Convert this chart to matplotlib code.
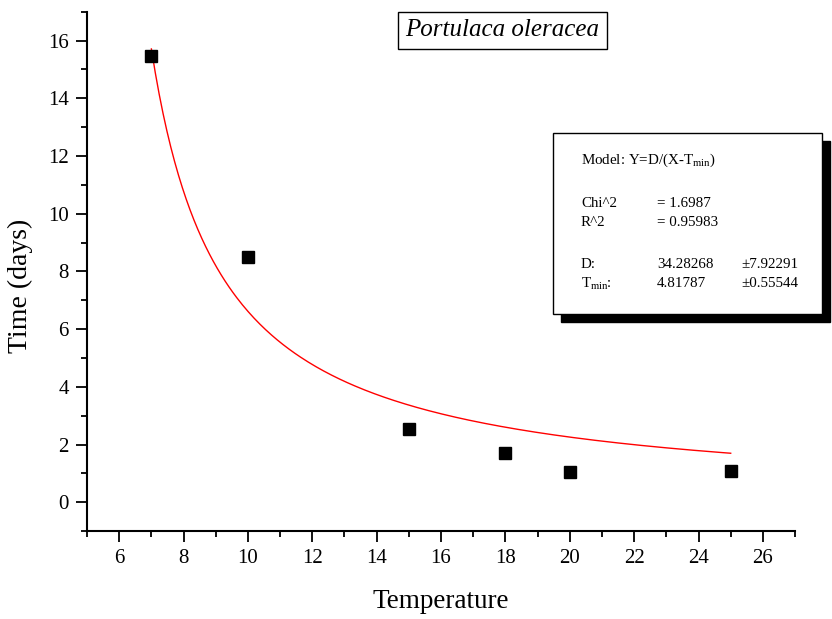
import matplotlib
matplotlib.use("Agg")
import matplotlib.pyplot as plt
import numpy as np
from matplotlib.patches import Rectangle
from matplotlib.ticker import MultipleLocator

plt.rcParams['font.family'] = ['Liberation Serif', 'DejaVu Serif']
plt.rcParams['mathtext.fontset'] = 'custom'
plt.rcParams['mathtext.rm'] = 'Liberation Serif'
plt.rcParams['mathtext.it'] = 'Liberation Serif:italic'

# measured points
temperature = [7, 10, 15, 18, 20, 25]
time_days = [15.47, 8.5, 2.55, 1.72, 1.05, 1.1]

# fit parameters from the stats box
D = 34.28268
T_min = 4.81787

fig = plt.figure(figsize=(8.32, 6.19), dpi=100)
ax = fig.add_axes([0.1046, 0.142, 0.851, 0.839])

xf = np.linspace(min(temperature), max(temperature), 300)
ax.plot(xf, D / (xf - T_min), color='red', lw=1.0)
ax.plot(temperature, time_days, 's', color='black', ms=8, zorder=3)

ax.set_xlim(5, 27)
ax.set_ylim(-1, 17)
ax.xaxis.set_minor_locator(MultipleLocator(1))
ax.yaxis.set_minor_locator(MultipleLocator(1))
ax.set_xticks(range(6, 27, 2))
ax.set_yticks(range(0, 17, 2))

for s in ['top', 'right']:
    ax.spines[s].set_visible(False)
for s in ['left', 'bottom']:
    ax.spines[s].set_linewidth(1.5)
ax.tick_params(which='major', direction='out', length=8, width=1.3, labelsize=15, pad=5)
ax.tick_params(which='minor', direction='out', length=4.5, width=1.3)

ax.set_xlabel('Temperature', fontsize=19.5, labelpad=15)
ax.set_ylabel('Time (days)', fontsize=20)
ax.yaxis.set_label_coords(-0.076, 0.473)

# title box
fig.text(502 / 832, 0.951, 'Portulaca oleracea', style='italic', fontsize=18,
         ha='center', va='center',
         bbox=dict(boxstyle='square,pad=0.3', fc='white', ec='black', lw=1.0))

# stats box with shadow
bx0, by0 = 553 / 832, 1 - 314 / 619
bw, bh = (822 - 553) / 832, (314 - 133) / 619
fig.patches.append(Rectangle((bx0 + 8 / 832, by0 - 8 / 619), bw, bh,
                             transform=fig.transFigure, fc='black', ec='black', zorder=5))
fig.patches.append(Rectangle((bx0, by0), bw, bh, transform=fig.transFigure,
                             fc='white', ec='black', lw=1.0, zorder=6))

c1, c2, c3 = 581 / 832, 657 / 832, 741 / 832
fs = 10.8
rows = [
    (160, [(c1, r'Model: Y=D/(X-T$_{\mathrm{min}}$)')]),
    (204, [(c1, 'Chi^2'), (c2, '= 1.6987')]),
    (222, [(c1, 'R^2'), (c2, '= 0.95983')]),
    (264, [(c1, 'D:'), (c2, '34.28268'), (c3, '\u00b17.92291')]),
    (284, [(c1, r'T$_{\mathrm{min}}$:'), (c2, '4.81787'), (c3, '\u00b10.55544')]),
]
for y, items in rows:
    for x, t in items:
        fig.text(x, 1 - y / 619, t, fontsize=fs, ha='left', va='center', zorder=7)

fig.savefig('out.png', dpi=100)
